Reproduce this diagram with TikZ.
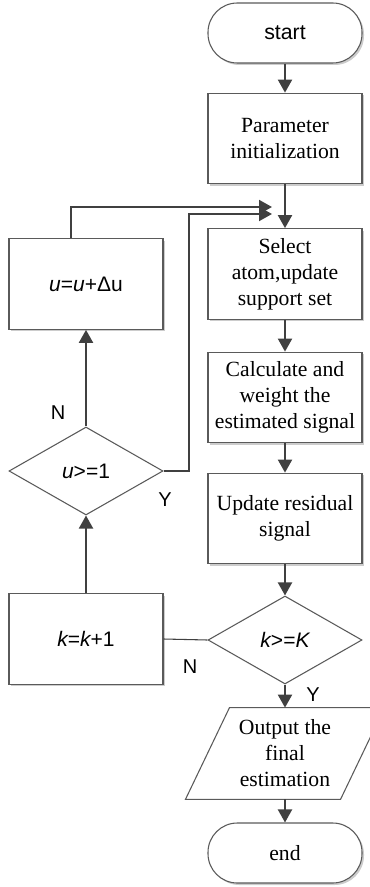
\documentclass[tikz,border=0pt]{standalone}
\usepackage{fontspec}
\setmainfont{Liberation Serif}
\newfontfamily\arialfont{Liberation Sans}
\usetikzlibrary{arrows.meta,shapes.geometric,shadows,positioning}
\definecolor{linegray}{HTML}{404040}
\definecolor{boxgray}{HTML}{5A5A5A}

\tikzset{
  base/.style={draw=boxgray, line width=0.8pt, fill=white, align=center,
               inner sep=2pt, font=\fontsize{16.25pt}{19.5pt}\selectfont},
  stepbox/.style={base, rectangle, minimum width=115.5pt, minimum height=68pt,
               drop shadow={shadow xshift=1.5pt, shadow yshift=-1.5pt, fill=black!20, opacity=1}},
  term/.style={base, rectangle, rounded corners=22pt, minimum width=115.5pt,
               minimum height=45pt,
               drop shadow={shadow xshift=1.5pt, shadow yshift=-1.5pt, fill=black!20, opacity=1}},
  decide/.style={base, diamond, minimum width=115.5pt, minimum height=66pt,
               inner sep=0pt, font=\arialfont\fontsize{15.75pt}{19.5pt}\selectfont},
  io/.style={base, draw=none, fill=none, rectangle, minimum width=115.5pt, minimum height=68pt},
  ioline/.style={draw=boxgray, line width=0.8pt},
  flow/.style={-{Triangle[length=9.75pt,width=10.5pt]}, linegray, line width=1.5pt},
  lab/.style={font=\arialfont\fontsize{15pt}{18pt}\selectfont, inner sep=0pt}
}

\begin{document}
\begin{tikzpicture}[x=0.75pt, y=-0.75pt]
    \useasboundingbox (0,0) rectangle (370,887);

    % main column
    \node (start) at (285,33) [term, font=\arialfont\fontsize{16pt}{19.5pt}\selectfont] {start};
    \node (init) at (285,138.5) [stepbox] {Parameter\\initialization};
    \node (sel) at (285,274) [stepbox] {Select\\atom,update\\support set};
    \node (calc) at (285,397.5) [stepbox] {Calculate and\\weight the\\estimated signal};
    \node (resid) at (285,518.5) [stepbox] {Update residual\\signal};
    \node (kchk) at (285,640) [decide] {\itshape k\upshape>=\itshape K};
    \node (out) at (285,753.5) [io] {Output the\\final\\estimation};
    \draw[ioline] ([xshift=-16.5pt]out.south west) -- ([xshift=-16.5pt]out.south east)
        -- ([xshift=16.5pt]out.north east) -- ([xshift=16.5pt]out.north west) -- cycle;
    \node (end) at (285,853) [term] {end};

    % left column
    \node (uinc) at (86,284) [stepbox, font=\arialfont\fontsize{15.75pt}{19.5pt}\selectfont]
        {\itshape u\upshape=\itshape u\upshape+Δu};
    \node (uchk) at (86,471) [decide] {\itshape u\upshape>=1};
    \node (kinc) at (86,639) [stepbox, font=\arialfont\fontsize{15.75pt}{19.5pt}\selectfont]
        {\itshape k\upshape=\itshape k\upshape+1};

    \coordinate (in1) at (272,207);
    \coordinate (in2) at (272,214);

    \draw[flow] (start) -- (init);
    \draw[flow] (init) -- (sel);
    \draw[flow] (sel) -- (calc);
    \draw[flow] (calc) -- (resid);
    \draw[flow] (resid) -- (kchk);
    \draw[flow] (kchk) -- (out);
    \draw[flow] (out) -- (end);

    \draw[linegray, line width=0.8pt] (kchk.west) -- (kinc.east);
    \draw[flow] (kinc) -- (uchk);
    \draw[flow] (uchk) -- (uinc);
    \draw[flow] ([xshift=-11.25pt]uinc.north) |- (in1);
    \draw[flow] (uchk.east) -- ++(25,0) |- (in2);

    \node[lab] (nu) at (58,413) {N};
    \node[lab] (yu) at (165,500) {Y};
    \node[lab] (nk) at (190,667) {N};
    \node[lab] (yk) at (313,695) {Y};
\end{tikzpicture}
\end{document}
